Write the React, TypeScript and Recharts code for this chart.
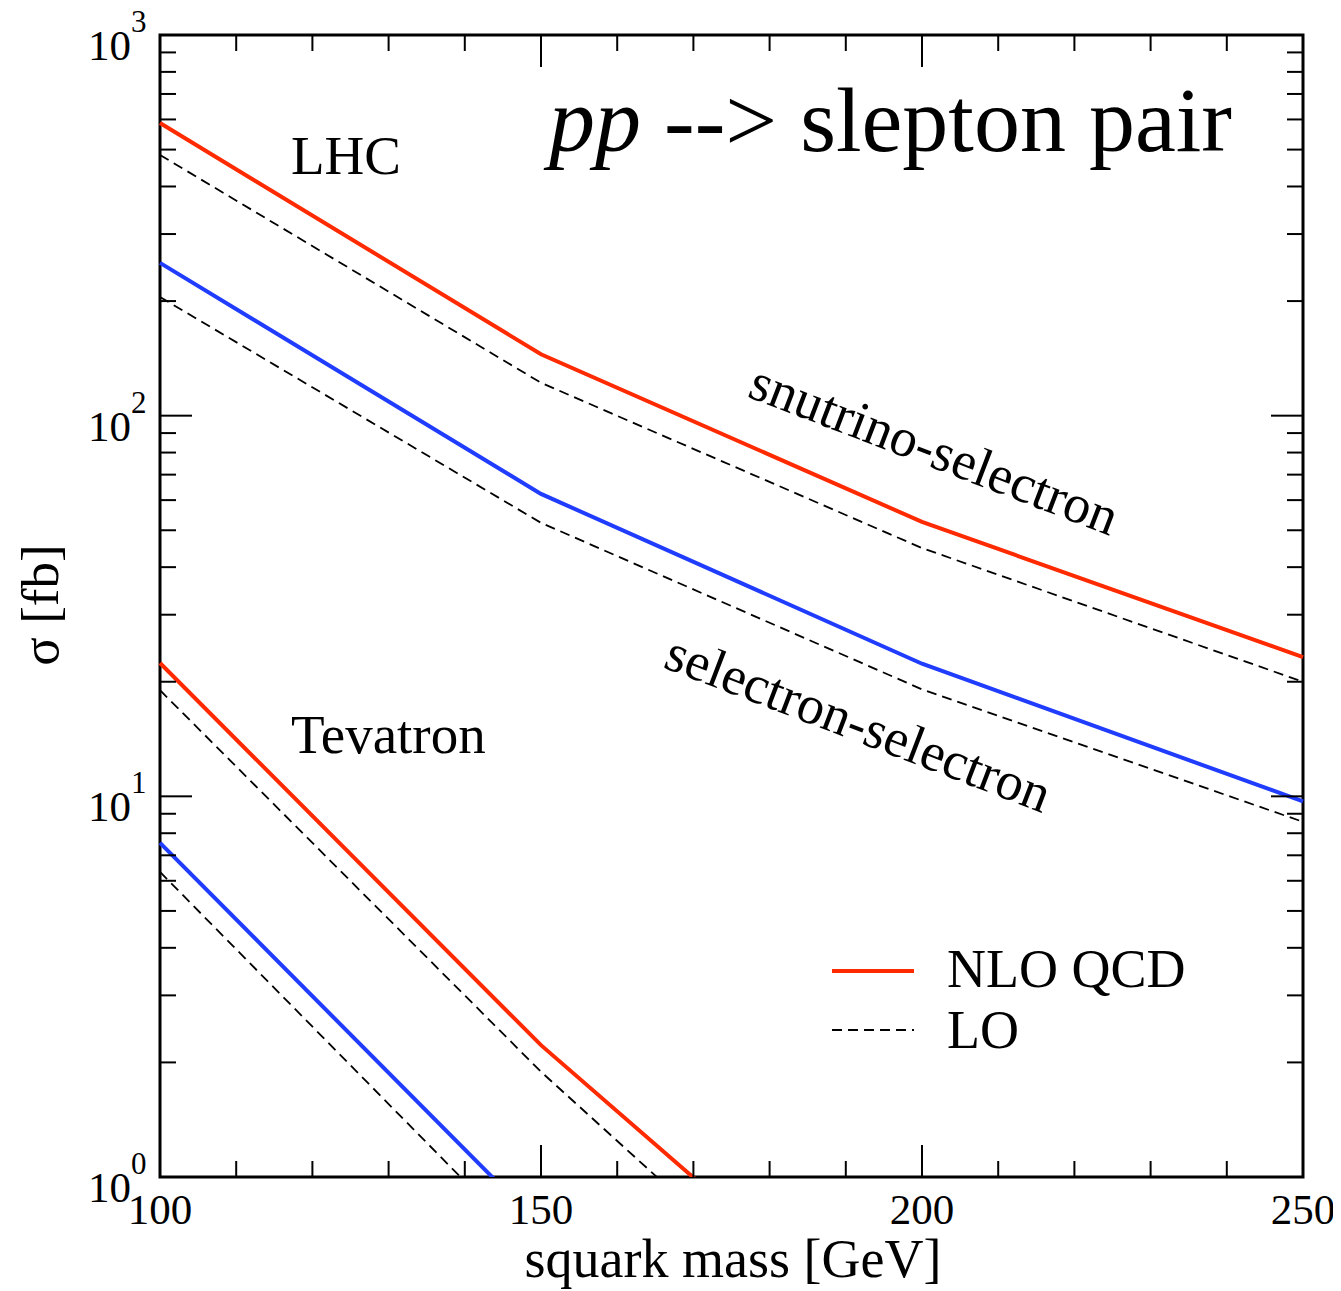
import React from "react";
import { LineChart, Line, XAxis, YAxis, ReferenceArea } from "recharts";

// squark mass [GeV]
const masses = [100, 150, 200, 250];
// LHC snutrino-selectron
const lhcSnuSelNLO = [587, 145, 52.6, 23.2];
const lhcSnuSelLO = [484, 122, 44.9, 20.0];
// LHC selectron-selectron
const lhcSelSelNLO = [252, 62.3, 22.3, 9.7];
const lhcSelSelLO = [205, 52.3, 19.1, 8.57];
// Tevatron snutrino-selectron
const tevSnuSelNLO = [22.4, 2.22, 0.3, null];
const tevSnuSelLO = [19.0, 1.89, 0.233, null];
// Tevatron selectron-selectron
const tevSelSelNLO = [7.55, 0.743, null, null];
const tevSelSelLO = [6.33, 0.61, null, null];

const xTicks = [100, 110, 120, 130, 140, 150, 160, 170, 180, 190, 200, 210, 220, 230, 240, 250];
const xMajor = [100, 150, 200, 250];
const yTicks = [1, 2, 3, 4, 5, 6, 7, 8, 9, 10, 20, 30, 40, 50, 60, 70, 80, 90, 100, 200, 300, 400, 500, 600, 700, 800, 900, 1000];
const yMajor = [1, 10, 100, 1000];
const yExp: Record<number, string> = { 1: "0", 10: "1", 100: "2", 1000: "3" };

const data = masses.map((m, i) => ({
  m,
  lhcSnuSelNLO: lhcSnuSelNLO[i],
  lhcSnuSelLO: lhcSnuSelLO[i],
  lhcSelSelNLO: lhcSelSelNLO[i],
  lhcSelSelLO: lhcSelSelLO[i],
  tevSnuSelNLO: tevSnuSelNLO[i],
  tevSnuSelLO: tevSnuSelLO[i],
  tevSelSelNLO: tevSelSelNLO[i],
  tevSelSelLO: tevSelSelLO[i],
}));

const RED = "#ff2a00";
const BLUE = "#1f3cff";
const FONT = "'Liberation Serif', 'Times New Roman', serif";
const DASH = "10 6";

const W = 1333;
const H = 1283;

const XTick = (props: any) => {
  const { x, y, payload, side } = props;
  const v = payload.value;
  const major = xMajor.includes(v);
  const len = major ? 32 : 16;
  const dir = side === "bottom" ? -1 : 1;
  return (
    <g>
      <line x1={x} x2={x} y1={y} y2={y + dir * len} stroke="#000" strokeWidth={2} />
      {side === "bottom" && major && (
        <text x={x} y={y + 47} textAnchor="middle" fontSize={43} fontFamily={FONT} fill="#000">
          {v}
        </text>
      )}
    </g>
  );
};

const YTick = (props: any) => {
  const { x, y, payload, side } = props;
  const v = payload.value;
  const major = yMajor.includes(v);
  const len = major ? 32 : 16;
  const dir = side === "left" ? 1 : -1;
  return (
    <g>
      <line x1={x} x2={x + dir * len} y1={y} y2={y} stroke="#000" strokeWidth={2} />
      {side === "left" && major && (
        <text x={x - 72} y={y + 25} textAnchor="start" fontSize={43} fontFamily={FONT} fill="#000">
          10
          <tspan fontSize={31} dy={-28}>
            {yExp[v]}
          </tspan>
        </text>
      )}
    </g>
  );
};

export default function App() {
  return (
    <div style={{ position: "relative", width: W, height: H }}>
      <style>{`.recharts-surface{overflow:visible}`}</style>
      <LineChart width={W} height={H} data={data} margin={{ top: 0, right: 0, bottom: 0, left: 0 }}>
        <XAxis
          dataKey="m"
          type="number"
          domain={[100, 250]}
          ticks={xTicks}
          interval={0}
          height={114}
          tickSize={0}
          tickMargin={0}
          axisLine={false}
          tickLine={false}
          tick={(p: any) => <XTick {...p} side="bottom" />}
        />
        <XAxis
          xAxisId="top"
          orientation="top"
          dataKey="m"
          type="number"
          domain={[100, 250]}
          ticks={xTicks}
          interval={0}
          height={27}
          tickSize={0}
          tickMargin={0}
          axisLine={false}
          tickLine={false}
          tick={(p: any) => <XTick {...p} side="top" />}
        />
        <YAxis
          type="number"
          scale="log"
          domain={[1, 1000]}
          allowDataOverflow
          ticks={yTicks}
          interval={0}
          width={152}
          tickSize={0}
          tickMargin={0}
          axisLine={false}
          tickLine={false}
          tick={(p: any) => <YTick {...p} side="left" />}
        />
        <YAxis
          yAxisId="right"
          orientation="right"
          type="number"
          scale="log"
          domain={[1, 1000]}
          allowDataOverflow
          ticks={yTicks}
          interval={0}
          width={38}
          tickSize={0}
          tickMargin={0}
          axisLine={false}
          tickLine={false}
          tick={(p: any) => <YTick {...p} side="right" />}
        />
        <Line dataKey="lhcSnuSelLO" stroke="#000" strokeWidth={1.8} strokeDasharray={DASH} dot={false} isAnimationActive={false} />
        <Line dataKey="lhcSelSelLO" stroke="#000" strokeWidth={1.8} strokeDasharray={DASH} dot={false} isAnimationActive={false} />
        <Line dataKey="tevSnuSelLO" stroke="#000" strokeWidth={1.8} strokeDasharray={DASH} dot={false} isAnimationActive={false} />
        <Line dataKey="tevSelSelLO" stroke="#000" strokeWidth={1.8} strokeDasharray={DASH} dot={false} isAnimationActive={false} />
        <Line dataKey="lhcSnuSelNLO" stroke={RED} strokeWidth={4} dot={false} isAnimationActive={false} />
        <Line dataKey="lhcSelSelNLO" stroke={BLUE} strokeWidth={4} dot={false} isAnimationActive={false} />
        <Line dataKey="tevSnuSelNLO" stroke={RED} strokeWidth={4} dot={false} isAnimationActive={false} />
        <Line dataKey="tevSelSelNLO" stroke={BLUE} strokeWidth={4} dot={false} isAnimationActive={false} />
        <ReferenceArea x1={100} x2={250} y1={1} y2={1000} fill="none" fillOpacity={0} stroke="#000" strokeWidth={3} ifOverflow="visible" />
      </LineChart>
      <svg
        width={W}
        height={H}
        style={{ position: "absolute", left: 0, top: 0, pointerEvents: "none", overflow: "visible" }}
        fontFamily={FONT}
      >
        <text x={541} y={143} fontSize={92} fill="#000">
          <tspan fontStyle="italic">pp</tspan>
          <tspan> --&gt; slepton pair</tspan>
        </text>
        <text x={283} y={166} fontSize={55} fill="#000">LHC</text>
        <text x={283} y={745} fontSize={55} fill="#000">Tevatron</text>
        <text x={920} y={458} fontSize={54} fill="#000" textAnchor="middle" transform="rotate(21 920 458)">
          snutrino-selectron
        </text>
        <text x={844} y={732} fontSize={54} fill="#000" textAnchor="middle" transform="rotate(21 844 732)">
          selectron-selectron
        </text>
        <line x1={824} x2={906} y1={963} y2={963} stroke={RED} strokeWidth={4} />
        <text x={939} y={979} fontSize={54} fill="#000">NLO QCD</text>
        <line x1={824} x2={906} y1={1022} y2={1022} stroke="#000" strokeWidth={1.8} strokeDasharray={DASH} />
        <text x={939} y={1040} fontSize={54} fill="#000">LO</text>
        <text x={725} y={1269} fontSize={54} fill="#000" textAnchor="middle">squark mass [GeV]</text>
        <text x={50} y={597} fontSize={53} fill="#000" textAnchor="middle" transform="rotate(-90 50 597)">
          σ [fb]
        </text>
      </svg>
    </div>
  );
}
